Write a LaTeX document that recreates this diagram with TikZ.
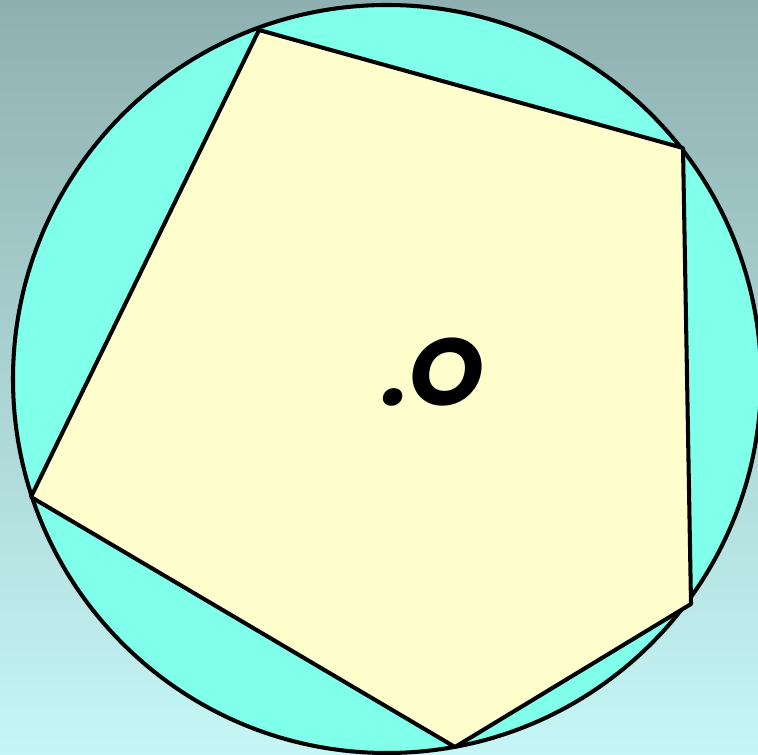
\documentclass[tikz,border=0pt]{standalone}
\usepackage{fontspec}
\newfontfamily\labelfont[BoldFeatures={FakeSlant=0.14},UprightFeatures={FakeSlant=0.14}]{Poppins}
\usepackage{tikz}
\usetikzlibrary{positioning}

\definecolor{bgtop}{RGB}{143,176,176}
\definecolor{bgbottom}{RGB}{198,246,246}
\definecolor{discfill}{RGB}{128,255,234}
\definecolor{polyfill}{RGB}{255,255,206}

\begin{document}
\begin{tikzpicture}[
    x=0.01cm,
    y=-0.01cm,
    outline/.style={
        draw=black,
        line width=1.15pt,
        line join=round
    },
    centrelabel/.style={
        font=\labelfont\bfseries\fontsize{27}{30}\selectfont,
        inner sep=0pt
    }
]
    \shade[top color=bgtop, bottom color=bgbottom] (0,0) rectangle (758,755);
    \useasboundingbox (0,0) rectangle (758,755);

    \coordinate (centre) at (387,379);
    \coordinate (p1) at (259,30);
    \coordinate (p2) at (683,148);
    \coordinate (p3) at (691,604);
    \coordinate (p4) at (455,747);
    \coordinate (p5) at (31,497);

    \filldraw[outline, fill=discfill] (centre) circle[radius=374];
    \filldraw[outline, fill=polyfill] (p1) -- (p2) -- (p3) -- (p4) -- (p5) -- cycle;

    \node[centrelabel, anchor=base west] (label) at (378,405) {.O};
\end{tikzpicture}
\end{document}
